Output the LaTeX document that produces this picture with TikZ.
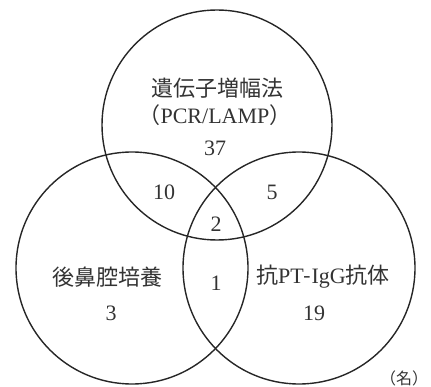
\documentclass[tikz,border=0pt]{standalone}
\usepackage{fontspec}
\setmainfont{Liberation Serif}
\newfontfamily\jp{Noto Sans CJK JP}
\begin{document}
\begin{tikzpicture}[x=1pt,y=-1pt,
  ring/.style={draw=black!85,line width=1.4pt},
  lbl/.style={text=black!80,font=\fontsize{22}{26}\selectfont,inner sep=0pt},
  num/.style={text=black!80,font=\fontsize{22}{26}\selectfont,inner sep=0pt}]
\useasboundingbox (0,0) rectangle (431,387);
\coordinate (ct) at (217,125);
\coordinate (cl) at (132,268);
\coordinate (cr) at (299,268);
\draw[ring] (ct) circle[radius=115];
\draw[ring] (cl) circle[radius=116];
\draw[ring] (cr) circle[radius=116];
\node[lbl] (tA) at (217,88) {\jp 遺伝子増幅法};
\node[lbl] (tB) at (215,115) {\jp （\rmfamily PCR/LAMP\jp ）};
\node[num] (n37) at (215,148) {37};
\node[num] (n10) at (164,192) {10};
\node[num] (n5) at (272,192) {5};
\node[num] (n2) at (216,224) {2};
\node[lbl] (tL) at (107,277) {\jp 後鼻腔培養};
\node[num] (n3) at (111,313) {3};
\node[num] (n1) at (216,283) {1};
\node[lbl] (tR) at (323,277) {\jp 抗\rmfamily PT{\jp -}IgG\jp 抗体};
\node[num] (n19) at (314,313) {19};
\node[text=black!80,font=\fontsize{16}{18}\selectfont,inner sep=0pt] (unit) at (404,378) {\jp （名）};
\end{tikzpicture}
\end{document}
